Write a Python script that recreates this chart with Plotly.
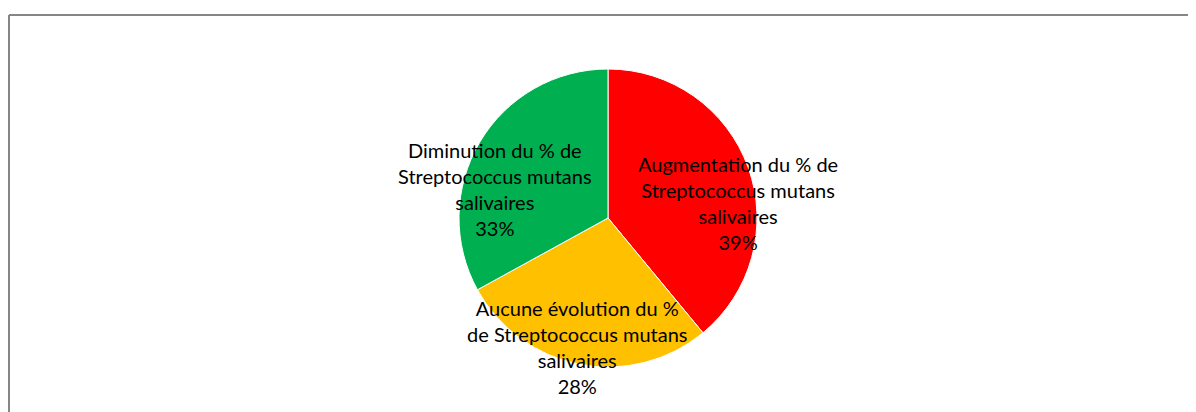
import plotly.graph_objects as go

# donnees
labels = ["Augmentation du % de<br>Streptococcus mutans<br>salivaires",
          "Aucune évolution du %<br>de Streptococcus mutans<br>salivaires",
          "Diminution du % de<br>Streptococcus mutans<br>salivaires"]
values = [39, 28, 33]
colors = ["#FF0000", "#FFC000", "#00B050"]
# centre des etiquettes (px page)
label_px = [(738, 203), (577, 347), (495, 189)]

W, H = 1196, 412
OFF = 8  # marge du body de la page html


def px(x):
    return (x - OFF) / W


def py(y):
    return 1 - (y - OFF) / H


fig = go.Figure()
fig.add_trace(go.Pie(
    labels=labels, values=values, sort=False, direction="clockwise", rotation=0,
    marker=dict(colors=colors, line=dict(color="white", width=1)),
    textinfo="none", hoverinfo="label+percent", showlegend=False,
    domain=dict(x=[px(459), px(757)], y=[py(367), py(69)]),
))

total = sum(values)
for lab, v, (lx, ly) in zip(labels, values, label_px):
    fig.add_annotation(
        x=px(lx), y=py(ly), xref="paper", yref="paper",
        text=lab + "<br>" + str(round(100 * v / total)) + "%",
        showarrow=False, align="center", xanchor="center", yanchor="middle",
        font=dict(family="Lato", size=20, color="black"),
    )

# cadre du graphique (coupe a droite et en bas)
fig.add_shape(type="line", xref="paper", yref="paper", x0=px(9), x1=1, y0=py(15), y1=py(15),
              line=dict(color="#868686", width=2))
fig.add_shape(type="line", xref="paper", yref="paper", x0=px(9), x1=px(9), y0=py(15), y1=0,
              line=dict(color="#868686", width=2))

fig.update_layout(width=W, height=H, margin=dict(l=0, r=0, t=0, b=0),
                  paper_bgcolor="white", plot_bgcolor="white")
fig.write_html("out.html")
